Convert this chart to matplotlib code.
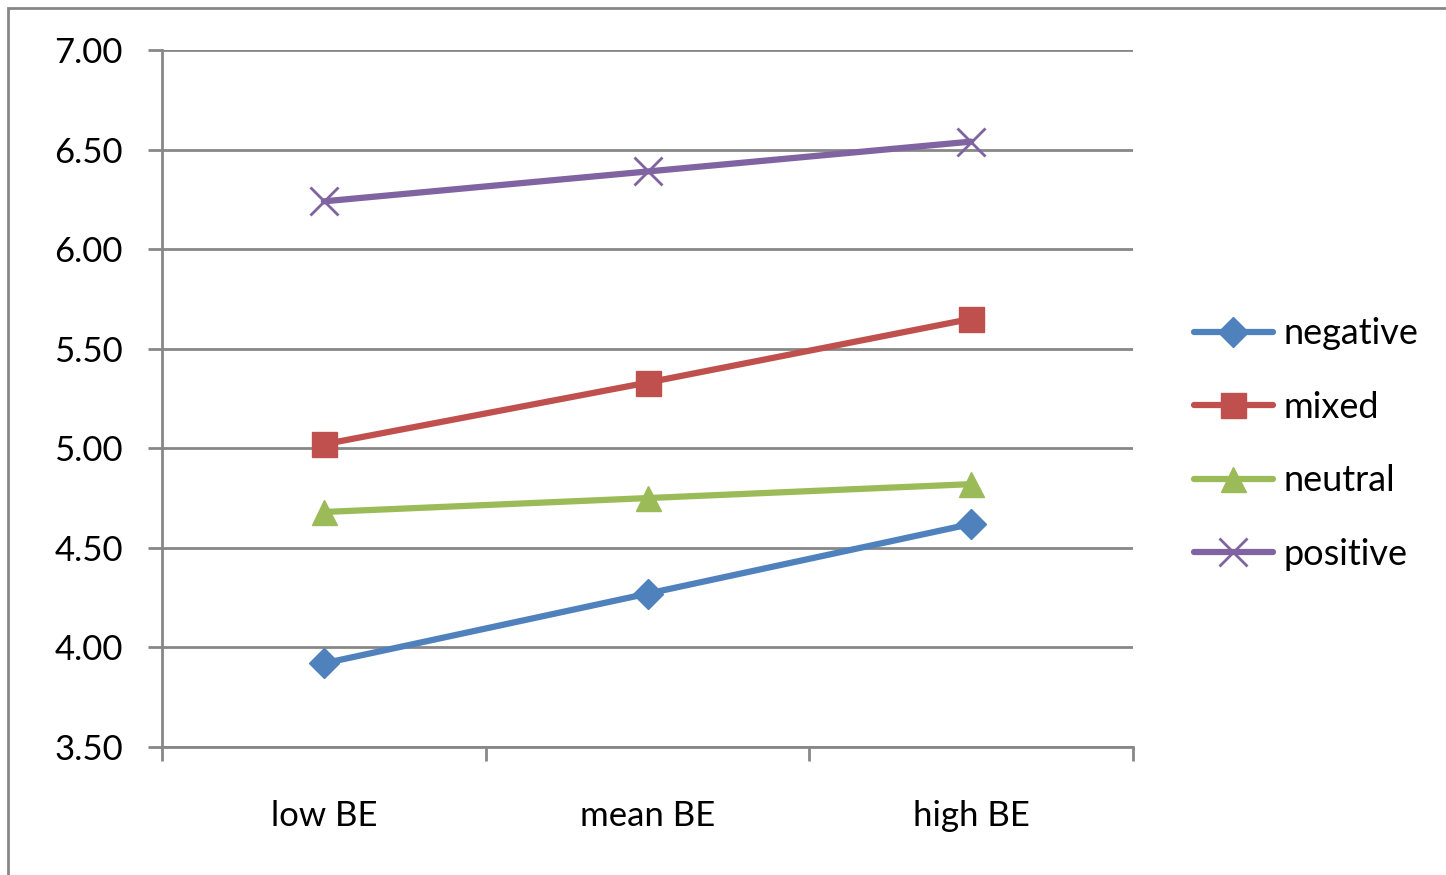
import matplotlib
matplotlib.use("Agg")
import matplotlib.pyplot as plt
from matplotlib.patches import Rectangle

categories = ["low BE", "mean BE", "high BE"]
series_names = ["negative", "mixed", "neutral", "positive"]
negative = [3.92, 4.27, 4.62]
mixed = [5.02, 5.33, 5.65]
neutral = [4.68, 4.75, 4.82]
positive = [6.24, 6.39, 6.54]
y_ticks = [3.5, 4.0, 4.5, 5.0, 5.5, 6.0, 6.5, 7.0]

colors = ["#4F81BD", "#C0504D", "#9BBB59", "#8064A2"]
markers = ["D", "s", "^", "x"]
msizes = [15, 18, 18, 20]

plt.rcParams['font.family'] = ['Lato', 'DejaVu Sans']

W, H = 1446, 875
fig = plt.figure(figsize=(W / 100, H / 100), dpi=100)
fig.patches.append(Rectangle((8 / W, -0.1), 1.2, (875 - 8) / H + 0.1, transform=fig.transFigure,
                             fill=False, edgecolor="#878787", linewidth=2))
ax = fig.add_axes([162 / W, (H - 747) / H, (1133 - 162) / W, (747 - 50) / H])

xs = [i + 0.5 for i in range(len(categories))]
for name, vals, c, m, ms in zip(series_names, [negative, mixed, neutral, positive], colors, markers, msizes):
    kw = dict(markeredgewidth=2) if m == "x" else dict(markeredgecolor=c)
    ax.plot(xs, vals, color=c, linewidth=4.5, marker=m, markersize=ms, label=name,
            solid_capstyle="round", zorder=3, **kw)

ax.set_xlim(0, 3)
ax.set_ylim(3.5, 7.0)
ax.set_yticks(y_ticks)
ax.set_yticklabels([f"{v:.2f}" for v in y_ticks])
ax.yaxis.grid(True, color="#878787", linewidth=2)
ax.set_axisbelow(True)
ax.set_xticks(xs)
ax.set_xticklabels(categories)
ax.set_xticks([0, 1, 2, 3], minor=True)
ax.tick_params(axis="x", which="major", length=0, pad=38, labelsize=25)
ax.tick_params(axis="x", which="minor", length=10, width=2, color="#878787")
ax.tick_params(axis="y", length=10, width=2, color="#878787", pad=18, labelsize=25)
for s in ["top", "right"]:
    ax.spines[s].set_visible(False)
for s in ["left", "bottom"]:
    ax.spines[s].set_color("#878787")
    ax.spines[s].set_linewidth(2)

leg = fig.legend(loc="center left", bbox_to_anchor=(1161 / W, (H - 444) / H), frameon=False,
                 fontsize=26, handlelength=2.2, labelspacing=1.12, handletextpad=0.3)

fig.savefig("out.png", dpi=100)
